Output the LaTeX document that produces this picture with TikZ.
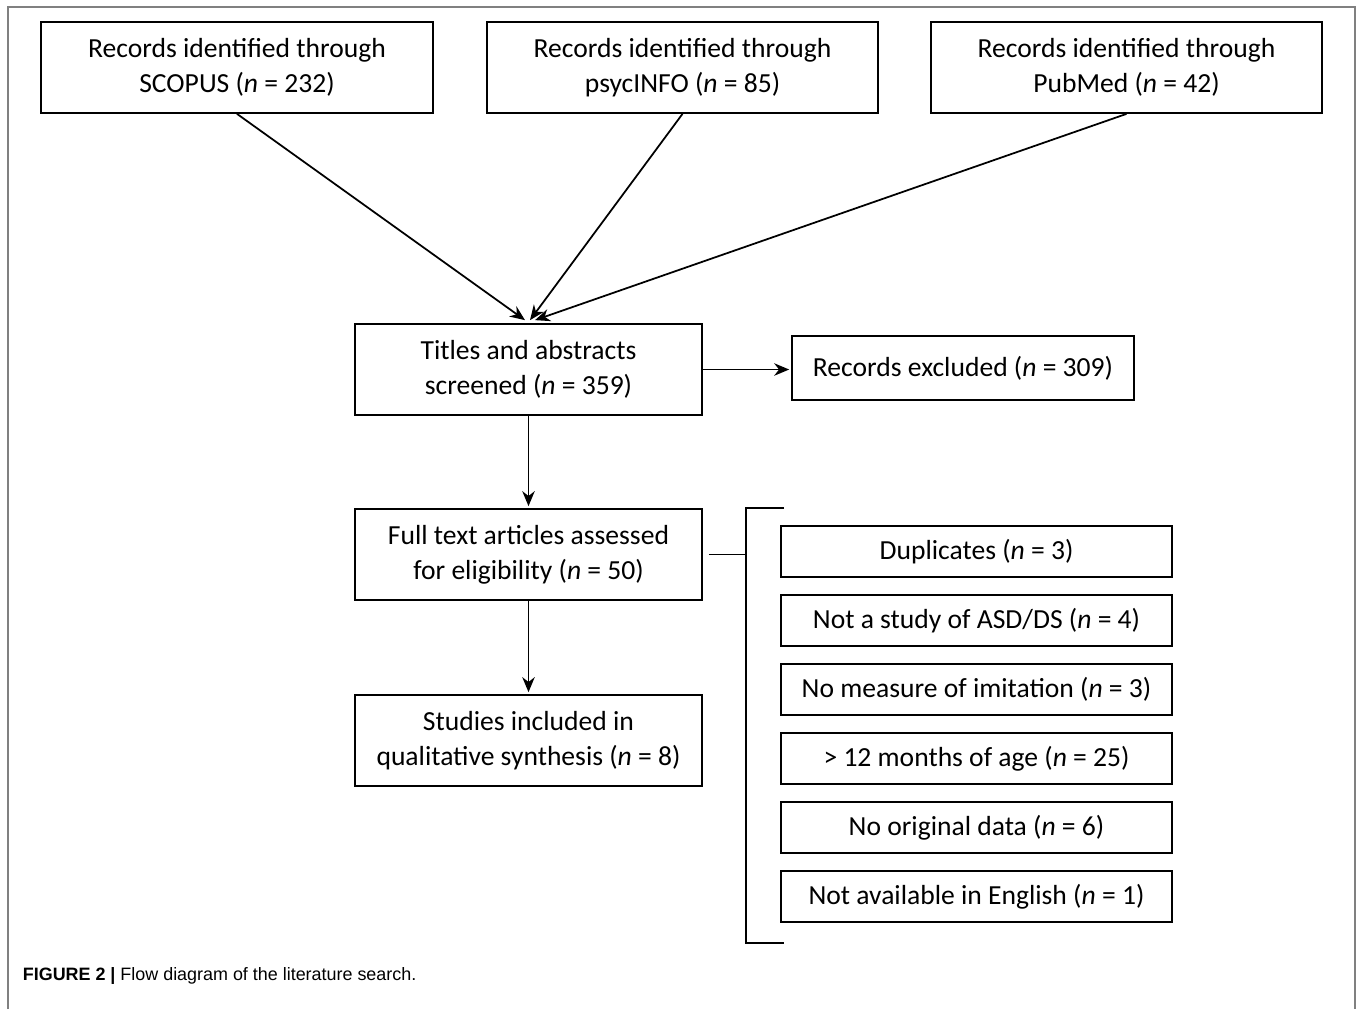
\documentclass[tikz,border=0pt]{standalone}
\usepackage{fontspec}
\setmainfont{Carlito}
\newfontfamily\capfont{Liberation Sans}
\usetikzlibrary{arrows.meta}
\begin{document}
\begin{tikzpicture}[x=0.02cm, y=-0.02cm, -{Stealth[length=0.3cm, width=0.25cm]}, line width=1pt,
    main node/.style={draw, -, align=center, inner sep=0pt, minimum height=1.82cm, minimum width=6.94cm,
      font=\fontsize{15.7}{19.8}\selectfont},
    excl node/.style={main node, minimum height=1.02cm, minimum width=7.82cm}]
        \useasboundingbox (0,0) rectangle (1358,1009);
        % outer frame
        \draw[-, gray, line width=0.7pt] (8,1009) -- (8,7) -- (1355,7) -- (1355,1009);
        \node[main node, minimum width=7.84cm] (1) at (237,67.5) {Records identified through\\SCOPUS (\textit{n} = 232)};
        \node[main node, minimum width=7.82cm] (2) at (682.5,67.5) {Records identified through\\psycINFO (\textit{n} = 85)};
        \node[main node, minimum width=7.82cm] (3) at (1126.5,67.5) {Records identified through\\PubMed (\textit{n} = 42)};
        \node[main node] (4) at (528.5,369.5) {Titles and abstracts\\screened (\textit{n} = 359)};
        \node[main node, minimum width=6.84cm, minimum height=1.28cm] (5) at (963,368) {Records excluded (\textit{n} = 309)};
        \node[main node] (6) at (528.5,554.5) {Full text articles assessed\\for eligibility (\textit{n} = 50)};
        \node[main node] (7) at (528.5,740.5) {Studies included in\\qualitative synthesis (\textit{n} = 8)};
        \foreach \i/\txt in {0/{Duplicates (\textit{n} = 3)}, 1/{Not a study of ASD/DS (\textit{n} = 4)},
            2/{No measure of imitation (\textit{n} = 3)}, 3/{> 12 months of age (\textit{n} = 25)},
            4/{No original data (\textit{n} = 6)}, 5/{Not available in English (\textit{n} = 1)}}
          \node[excl node] (e\i) at (976.5,551.5+69*\i) {\txt};
        \path
        (1.south) edge ([xshift=-0.07cm, yshift=0.06cm]4.north)
        (2.south) edge ([xshift=0.03cm, yshift=0.06cm]4.north)
        (3.south) edge ([xshift=0.13cm, yshift=0.06cm]4.north)
        (4.east) edge ([xshift=-0.04cm]5.west |- 4.east)
        (4.south) edge ([yshift=0.04cm]6.north)
        (6.south) edge ([yshift=0.04cm]7.north);
        % bracket of excluded articles
        \coordinate (b) at (746,554.5);
        \draw[-] (784,508) -- (746,508) -- (746,943) -- (784,943);
        \draw[-] ([xshift=0.12cm]6.east) -- (b);
        \node[anchor=base west, inner sep=0pt, font=\capfont\fontsize{10.2}{12}\selectfont] (cap) at (22,980)
          {\textbf{FIGURE 2 |} Flow diagram of the literature search.};
    \end{tikzpicture}
\end{document}
